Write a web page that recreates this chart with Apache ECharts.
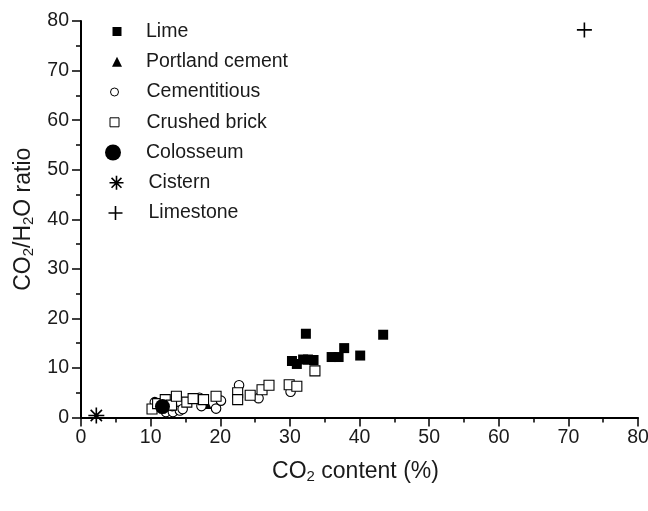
<!DOCTYPE html>
<html>
<head>
<meta charset="utf-8">
<script src="https://cdn.jsdelivr.net/npm/echarts@6/dist/echarts.min.js"></script>
<style>
  html, body { margin: 0; padding: 0; background: #ffffff; }
  #chart { width: 648px; height: 511px; }
</style>
</head>
<body>
<div id="chart"></div>
<script>
// CO2 content (%) vs CO2/H2O ratio for each mortar group
const limeData = [
  [30.3, 11.4], [31.0, 10.8], [31.9, 11.7], [32.6, 11.7], [33.4, 11.6],
  [36.0, 12.2], [37.0, 12.2], [37.8, 14.0], [40.1, 12.5], [32.3, 16.9], [43.4, 16.7]
];
const portlandData = [[18.2, 2.5], [11.9, 2.5]];
const cementitiousData = [
  [10.6, 3.1], [11.3, 2.5], [12.2, 1.1], [13.2, 1.1], [13.1, 2.3], [14.2, 1.4],
  [14.6, 1.7], [17.0, 4.0], [17.3, 2.3], [19.4, 1.8], [20.1, 3.4], [22.7, 6.5],
  [25.5, 3.9], [30.1, 5.2]
];
const crushedBrickData = [
  [10.2, 1.7], [11.0, 2.8], [12.1, 3.6], [13.0, 2.5], [13.7, 4.3], [15.2, 3.1],
  [16.1, 3.8], [17.6, 3.6], [19.4, 4.3], [22.5, 5.0], [22.5, 3.6], [24.3, 4.5],
  [26.0, 5.6], [27.0, 6.5], [29.9, 6.6], [31.0, 6.3], [33.6, 9.4]
];
const colosseumData = [[11.7, 2.2]];
const cisternData = [[2.2, 0.4]];
const limestoneData = [[72.3, 78.2]];

const xMin = 0, xMax = 80, xStep = 10;
const yMin = 0, yMax = 80, yStep = 10;

const FONT = '"Liberation Sans", Arial, Helvetica, sans-serif';
const INK = '#1a1a1a';
const ASTERISK = 'path://M0,-10L0,10M-10,0L10,0M-7.07,-7.07L7.07,7.07M-7.07,7.07L7.07,-7.07';
const PLUS = 'path://M0,-10L0,10M-10,0L10,0';

// marker appearance per group (plot and legend key)
const groups = [
  { name: 'Lime', data: limeData, symbol: 'rect', size: 10, fill: '#000', stroke: '#000', bw: 0, key: 9, keyX: 117, keyY: 31.5 },
  { name: 'Portland cement', data: portlandData, symbol: 'triangle', size: 8, fill: '#000', stroke: '#000', bw: 0, key: 10, keyX: 117, keyY: 61.8 },
  { name: 'Cementitious', data: cementitiousData, symbol: 'circle', size: 9.5, fill: '#fff', stroke: '#000', bw: 1.1, key: 8, keyX: 114, keyY: 92 },
  { name: 'Crushed brick', data: crushedBrickData, symbol: 'rect', size: 10, fill: '#fff', stroke: '#000', bw: 1.1, key: 9, keyX: 114, keyY: 122.3 },
  { name: 'Colosseum', data: colosseumData, symbol: 'circle', size: 15, fill: '#000', stroke: '#000', bw: 0, key: 16, keyX: 113, keyY: 152.5 },
  { name: 'Cistern', data: cisternData, symbol: ASTERISK, size: 16, fill: 'none', stroke: '#000', bw: 1.6, key: 14, keyX: 114, keyY: 182.8 },
  { name: 'Limestone', data: limestoneData, symbol: PLUS, size: 15, fill: 'none', stroke: '#000', bw: 1.6, key: 14, keyX: 113, keyY: 213 }
];

const TEXT_X = 146;

const nameRich = {
  a: { fontFamily: FONT, fontSize: 23, color: INK, lineHeight: 26, verticalAlign: 'middle' },
  s: { fontFamily: FONT, fontSize: 15, color: INK, verticalAlign: 'bottom' }
};

function axisCommon() {
  return {
    type: 'value',
    axisLine: { show: true, onZero: false, lineStyle: { color: '#000', width: 2 } },
    axisTick: { show: true, inside: false, length: 9, lineStyle: { color: '#000', width: 1.5 } },
    minorTick: { show: true, splitNumber: 2, length: 5, lineStyle: { color: '#000', width: 1.5 } },
    splitLine: { show: false },
    minorSplitLine: { show: false },
    axisLabel: { fontFamily: FONT, fontSize: 19.5, color: INK },
    nameLocation: 'middle'
  };
}

const xAxis = Object.assign(axisCommon(), {
  min: xMin, max: xMax, interval: xStep,
  name: '{a|CO}{s|2}{a| content (%)}',
  nameGap: 41,
  nameTextStyle: { rich: nameRich, padding: [0, 8, 0, 0] }
});
xAxis.axisLabel.margin = 10;

const yAxis = Object.assign(axisCommon(), {
  min: yMin, max: yMax, interval: yStep,
  name: '{a|CO}{s|2}{a|/H}{s|2}{a|O ratio}',
  nameRotate: 90,
  nameGap: 36,
  nameTextStyle: { rich: nameRich }
});
yAxis.axisLabel.margin = 12;

const chart = echarts.init(document.getElementById('chart'), null, { renderer: 'canvas' });

chart.setOption({
  animation: false,
  backgroundColor: '#ffffff',
  grid: { left: 81, right: 10, top: 21, bottom: 93.5, containLabel: false, outerBoundsMode: 'none' },
  xAxis: xAxis,
  yAxis: yAxis,
  legend: groups.map(g => ({
    data: [g.name],
    orient: 'vertical',
    left: g.keyX - g.key / 2,
    top: g.keyY - 10,
    padding: 0,
    itemWidth: g.key,
    itemHeight: g.key,
    selectedMode: false,
    itemStyle: { color: g.fill, borderColor: g.stroke, borderWidth: g.bw === 0 ? 0 : (g.fill === 'none' ? 1.6 : 1) },
    textStyle: {
      fontFamily: FONT, fontSize: 19.5, color: INK, lineHeight: 20,
      padding: [0, 0, 0, TEXT_X - (g.keyX + g.key / 2 + 5)]
    }
  })),
  series: groups.map((g, i) => ({
    type: 'scatter',
    name: g.name,
    data: g.data,
    symbol: g.symbol,
    symbolSize: g.size,
    z: 2 + i,
    itemStyle: { color: g.fill, borderColor: g.stroke, borderWidth: g.bw, opacity: 1 },
    emphasis: { disabled: true }
  }))
});
</script>
</body>
</html>
